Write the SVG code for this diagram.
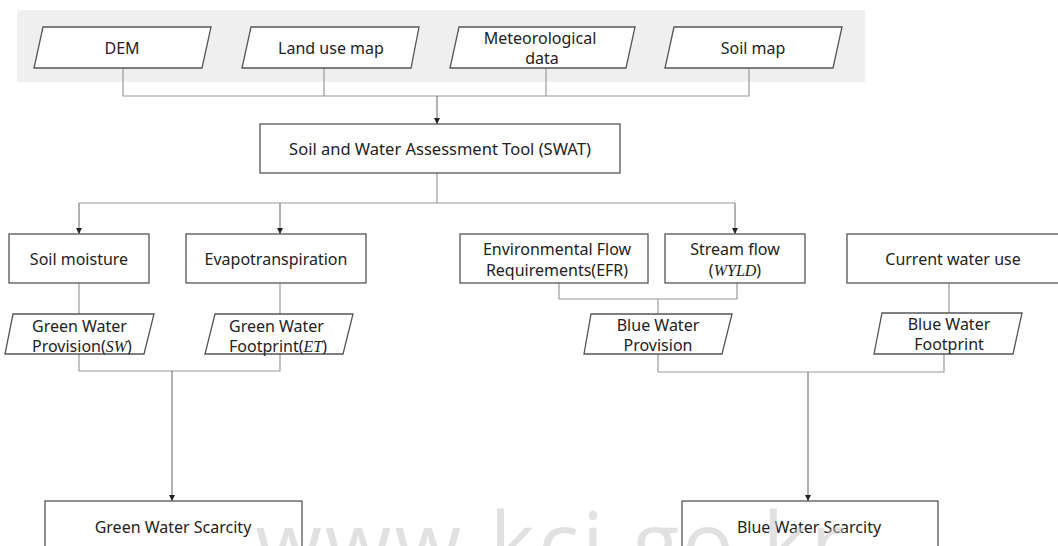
<svg xmlns="http://www.w3.org/2000/svg" width="1058" height="546" viewBox="0 0 1058 546">
<defs>
<marker id="arr" viewBox="0 0 10 10" refX="10" refY="5" markerWidth="6" markerHeight="6" orient="auto" markerUnits="userSpaceOnUse">
<path d="M0,0 L10,5 L0,10 z" fill="#222"/>
</marker>
<style>
.box{fill:#fff;stroke:#555;stroke-width:1.3}
.t{font-family:"Noto Sans","Open Sans","DejaVu Sans",sans-serif;font-size:16px;fill:#222;text-anchor:middle}
.ts{font-family:"Noto Sans","Open Sans","DejaVu Sans",sans-serif;font-size:16px;fill:#222;text-anchor:start}
.m{font-family:"Liberation Serif","DejaVu Serif",serif;font-style:italic}
.c{fill:none;stroke:#999;stroke-width:1.2}
.a{fill:none;stroke:#666;stroke-width:1;marker-end:url(#arr)}
</style>
</defs>
<rect x="0" y="0" width="1058" height="546" fill="#fff"/>
<rect id="input-band" x="17" y="10" width="848" height="72" fill="#efefef"/>

<g id="connectors">
<polyline class="c" points="123,68 123,96 749,96 749,68"/>
<line class="c" x1="324" y1="68" x2="324" y2="96"/>
<line class="c" x1="546" y1="68" x2="546" y2="96"/>
<line class="a" x1="437" y1="96" x2="437" y2="124"/>
<line class="c" x1="437" y1="173" x2="437" y2="203"/>
<polyline class="c" points="79,203 735,203"/>
<line class="a" x1="79" y1="203" x2="79" y2="234"/>
<line class="a" x1="280" y1="203" x2="280" y2="234"/>
<line class="a" x1="735" y1="203" x2="735" y2="234"/>
<line class="c" x1="79" y1="283" x2="79" y2="314"/>
<line class="c" x1="280" y1="283" x2="280" y2="314"/>
<polyline class="c" points="79,354 79,371 280,371 280,354"/>
<line class="a" x1="172" y1="371" x2="172" y2="501"/>
<polyline class="c" points="559,283 559,299 737,299 737,283"/>
<line class="c" x1="658" y1="299" x2="658" y2="314"/>
<line class="c" x1="949" y1="283" x2="949" y2="313"/>
<polyline class="c" points="658,354 658,372 944,372 944,354"/>
<line class="a" x1="808" y1="372" x2="808" y2="501"/>
</g>

<g id="dem">
<polygon class="box" points="43,27 211,27 202,68 34,68"/>
<text class="t" x="122" y="54">DEM</text>
</g>
<g id="land-use">
<polygon class="box" points="251,27 419,27 411,68 242,68"/>
<text class="t" x="331" y="54">Land use map</text>
</g>
<g id="meteorological">
<polygon class="box" points="459,27 635,27 626,68 450,68"/>
<text class="t" x="540" y="44">Meteorological</text>
<text class="t" x="542" y="64">data</text>
</g>
<g id="soil-map">
<polygon class="box" points="674,27 842,27 833,68 665,68"/>
<text class="t" x="753" y="54">Soil map</text>
</g>

<g id="swat">
<rect class="box" x="260" y="124" width="360" height="49"/>
<text class="t" x="440" y="155" style="font-size:16.5px">Soil and Water Assessment Tool (SWAT)</text>
</g>

<g id="soil-moisture">
<rect class="box" x="9" y="234" width="140" height="49"/>
<text class="t" x="79" y="265">Soil moisture</text>
</g>
<g id="evapotranspiration">
<rect class="box" x="186" y="234" width="180" height="49"/>
<text class="t" x="276" y="265">Evapotranspiration</text>
</g>
<g id="efr">
<rect class="box" x="460" y="234" width="188" height="49"/>
<text class="t" x="557" y="255">Environmental Flow</text>
<text class="t" x="557" y="276">Requirements(EFR)</text>
</g>
<g id="stream-flow">
<rect class="box" x="665" y="234" width="140" height="49"/>
<text class="t" x="735" y="255">Stream flow</text>
<text class="t" x="735" y="276">(<tspan class="m">WYLD</tspan>)</text>
</g>
<g id="current-water-use">
<rect class="box" x="847" y="234" width="215" height="49"/>
<text class="t" x="953" y="265">Current water use</text>
</g>

<g id="green-water-provision">
<polygon class="box" points="13,314 154,314 144,354 5,354"/>
<text class="ts" x="32" y="332">Green Water</text>
<text class="ts" x="32" y="352">Provision(<tspan class="m">SW</tspan>)</text>
</g>
<g id="green-water-footprint">
<polygon class="box" points="215,314 353,314 343,354 205,354"/>
<text class="ts" x="229" y="332">Green Water</text>
<text class="ts" x="229" y="352">Footprint(<tspan class="m">ET</tspan>)</text>
</g>
<g id="blue-water-provision">
<polygon class="box" points="591,314 732,314 722,354 584,354"/>
<text class="t" x="658" y="331">Blue Water</text>
<text class="t" x="658" y="351">Provision</text>
</g>
<g id="blue-water-footprint">
<polygon class="box" points="882,313 1022,313 1013,354 874,354"/>
<text class="t" x="949" y="330">Blue Water</text>
<text class="t" x="949" y="350">Footprint</text>
</g>

<g id="green-water-scarcity">
<rect class="box" x="45" y="501" width="257" height="60"/>
<text class="t" x="173" y="533">Green Water Scarcity</text>
</g>
<g id="blue-water-scarcity">
<rect class="box" x="682" y="501" width="256" height="60"/>
<text class="t" x="809" y="533">Blue Water Scarcity</text>
</g>

<text id="watermark" x="552" y="574" font-family="'Open Sans','Noto Sans',sans-serif" font-size="86" font-weight="400" fill="#c4c4c4" fill-opacity="0.5" text-anchor="middle" letter-spacing="3">www.kci.go.kr</text>
</svg>
